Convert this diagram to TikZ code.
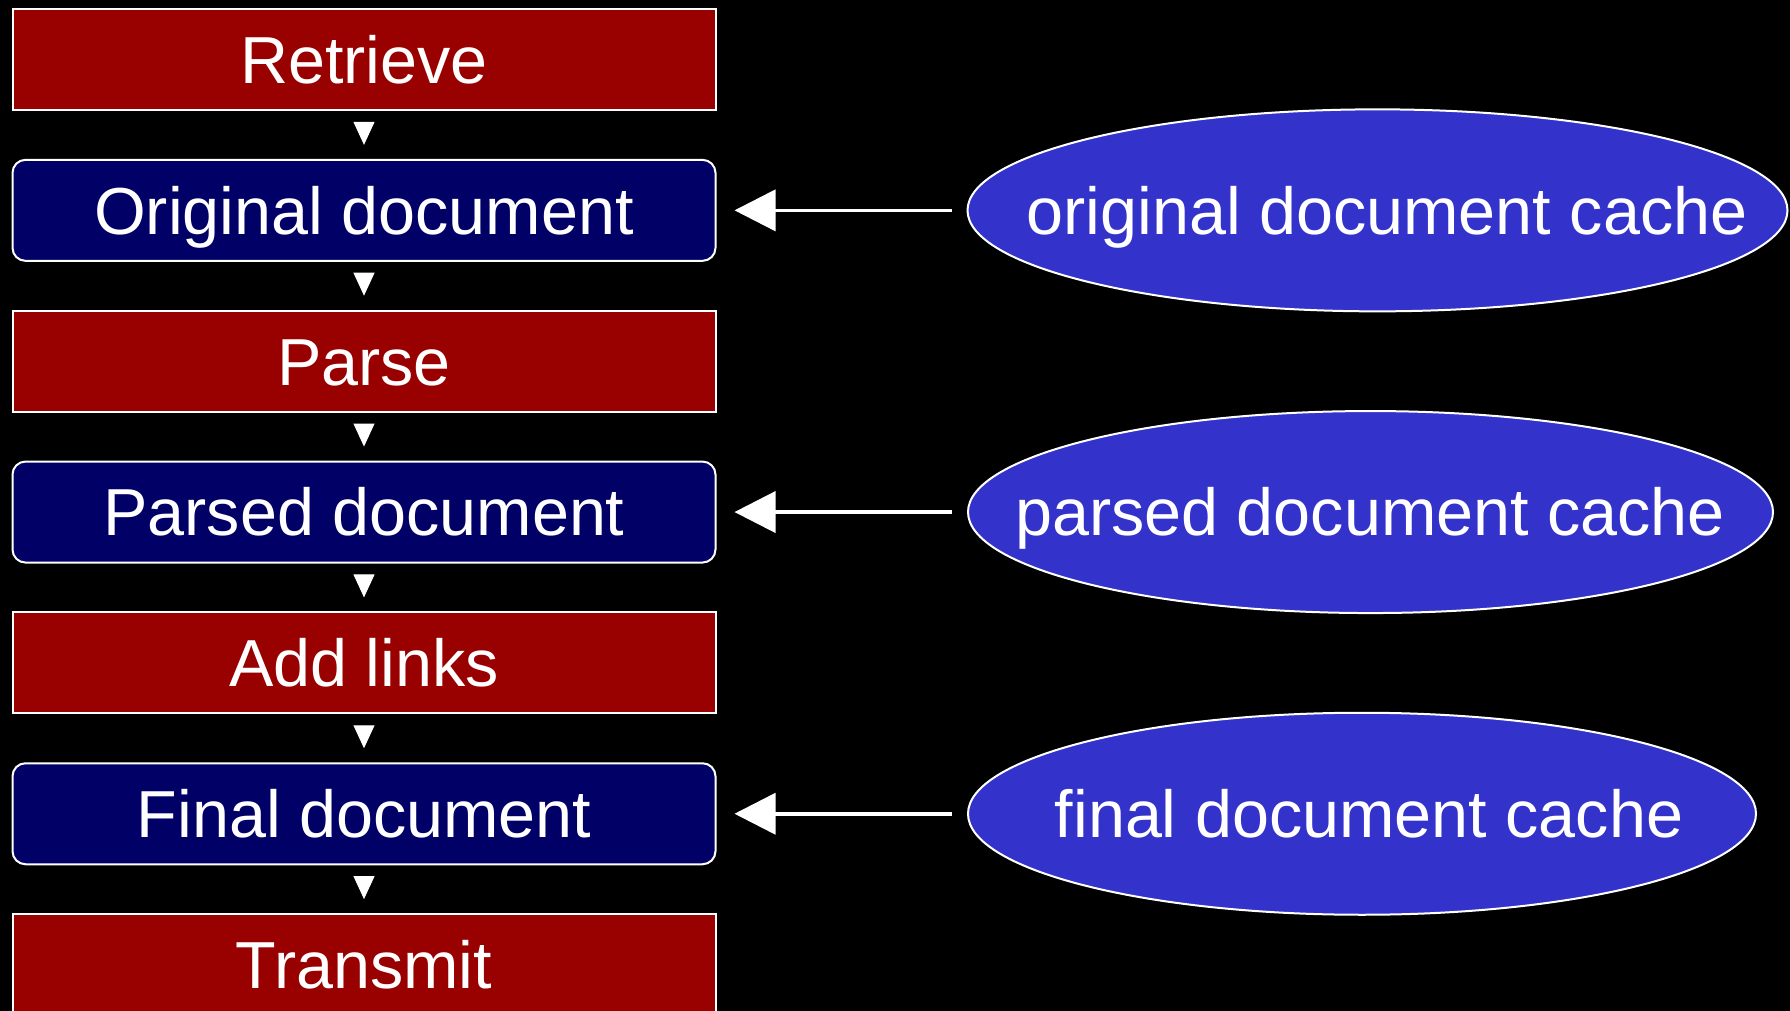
\documentclass[tikz,border=0pt]{standalone}
\usepackage{fontspec}
\setmainfont{Liberation Sans}
\usetikzlibrary{shapes.geometric,arrows.meta}
\definecolor{stepred}{HTML}{990000}
\definecolor{docblue}{HTML}{000066}
\definecolor{cacheblue}{HTML}{3333CC}
\tikzset{
  lbl/.style={text=white, font=\fontsize{33.25}{40}\selectfont, inner sep=0pt,
    text height=23.8pt, text depth=0pt},
  stepbox/.style={rectangle, draw=white, line width=1pt, fill=stepred,
    minimum width=351.5pt, minimum height=50.5pt, lbl},
  docbox/.style={stepbox, fill=docblue, rounded corners=6.5pt},
  cache/.style={ellipse, draw=white, line width=1pt, fill=cacheblue,
    minimum height=101pt, inner sep=0pt},
  flow/.style={draw=white, line width=0.5pt,
    -{Triangle[length=11.5pt,width=10.5pt]}, shorten >=7pt},
  feed/.style={draw=white, line width=1.8pt,
    -{Triangle[length=20.5pt,width=20.5pt]}, shorten >=9pt, shorten <=7.5pt}
}
\begin{document}
\begin{tikzpicture}[x=0.5pt,y=-0.5pt]
  % page and background
  \fill[black] (0,0) rectangle (1790,1011);
  \useasboundingbox (0,0) rectangle (1790,1011);

  % processing chain
  \node[stepbox] (retrieve) at (364,59.5)   {Retrieve};
  \node[docbox]  (orig)     at (364,210.35) {Original document};
  \node[stepbox] (parse)    at (364,361.2)  {Parse};
  \node[docbox]  (parsed)   at (364,512.05) {Parsed document};
  \node[stepbox] (links)    at (364,662.9)  {Add links};
  \node[docbox]  (final)    at (364,813.75) {Final document};
  \node[stepbox] (transmit) at (364,964.6)  {Transmit};

  \foreach \a/\b in {retrieve/orig, orig/parse, parse/parsed,
                     parsed/links, links/final, final/transmit}
    \draw[flow] ([yshift=-6pt]\a.south) -- (\b.north);

  % caches
  \node[cache, minimum width=410pt]   (c1) at (1377.5,210.35) {};
  \node[lbl] (c1t) at (1387,210.35) {original document cache};
  \node[cache, minimum width=402.5pt] (c2) at (1370.5,512.05) {};
  \node[lbl] (c2t) at (1370,512.05) {parsed document cache};
  \node[cache, minimum width=394pt]   (c3) at (1362,813.75)   {};
  \node[lbl] (c3t) at (1369,813.75) {final document cache};

  \draw[feed] (c1.west) -- (orig.east);
  \draw[feed] (c2.west) -- (parsed.east);
  \draw[feed] (c3.west) -- (final.east);
\end{tikzpicture}
\end{document}
